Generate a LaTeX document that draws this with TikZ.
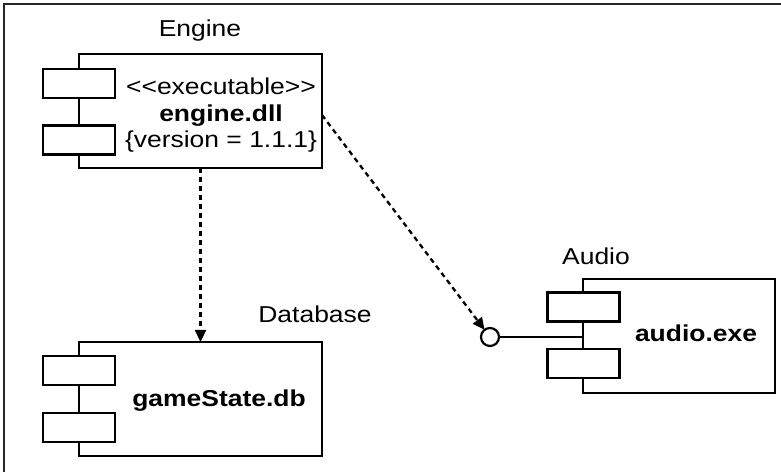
\documentclass[tikz,border=0pt]{standalone}
\usepackage{fontspec}
\setmainfont{Liberation Sans}[FakeStretch=1.15]
\usetikzlibrary{arrows.meta}
\begin{document}
\begin{tikzpicture}[x=1bp,y=-1bp,
  every node/.style={font=\fontsize{23bp}{27bp}\selectfont, inner sep=0pt, outer sep=0pt},
  comp/.style={draw, line width=2.3bp, fill=white},
  port/.style={draw, line width=2.3bp, fill=white, minimum width=72bp, minimum height=29bp},
  lbl/.style={anchor=base},
  dep/.style={line width=2.3bp, dash pattern=on 5bp off 4bp, -{Triangle[length=12bp,width=11bp]}},
  frame/.style={line width=2bp, draw=black!85}
]
\useasboundingbox (0,0) rectangle (781,472);
\draw[frame] (4,472) -- (4,4) -- (781,4);

% Engine
\node[comp, minimum width=243bp, minimum height=114bp] (engine) at (200.5,111) {};
\node[port] (ep1) at (79,83.5) {};
\node[port] (ep2) at (79,140) {};
\node[lbl] (enginelbl) at (200,37) {Engine};
\node[lbl] (st) at (221,95) {{<}{<}executable{>}{>}};
\node[lbl] (en) at (221,121.5) {\bfseries engine.dll};
\node[lbl] (ver) at (221,148) {\{version = 1.1.1\}};

% Database
\node[comp, minimum width=243bp, minimum height=114bp] (database) at (200.5,399) {};
\node[port] (dp1) at (79,370.5) {};
\node[port] (dp2) at (79,427.5) {};
\node[lbl] (dblbl) at (315,323) {Database};
\node[lbl] (dbname) at (219,406) {\bfseries gameState.db};

% Audio
\node[comp, minimum width=192bp, minimum height=114bp] (audio) at (679,336) {};
\node[port] (ap1) at (583.5,307) {};
\node[port] (ap2) at (583.5,363.5) {};
\node[lbl] (audiolbl) at (596,265) {Audio};
\node[lbl] (audioname) at (696,342) {\bfseries audio.exe};

% interface
\node[draw, circle, line width=2.2bp, fill=white, minimum size=18bp] (iface) at (490,337) {};
\draw[line width=2.2bp] (iface.east) -- (iface.east -| audio.west);

% dependencies
\draw[dep] (engine.south) -- (database.north);
\draw[dep] (engine.east |- 0,115) -- (iface);
\end{tikzpicture}
\end{document}
